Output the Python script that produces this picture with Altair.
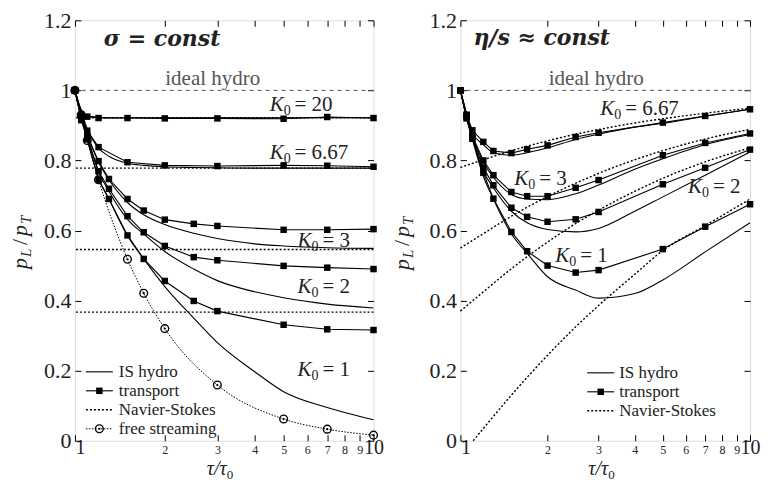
import altair as alt
import pandas as pd

# ---------------- data ----------------
TAU_A = [1, 1.05, 1.1, 1.2, 1.5, 2, 3, 5, 7, 10]
TAU_B = [1, 1.05, 1.1, 1.2, 1.3, 1.5, 1.7, 2, 2.5, 3, 5, 7, 10]
TAU_IS = [1, 1.05, 1.1, 1.2, 1.3, 1.5, 1.7, 2, 2.5, 3, 4, 5, 7, 10]
TAU_NS = [1, 1.2, 1.5, 2, 2.5, 3, 4, 5, 7, 10]
TAU_NS1 = [1.107, 1.2, 1.5, 2, 2.5, 3, 4, 5, 7, 10]
TAU_FS = [1, 1.05, 1.1, 1.2, 1.5, 1.7, 2, 3, 5, 7, 10]

# left panel: sigma = const
L_TR_20 = [1.0, 0.93, 0.925, 0.921, 0.921, 0.920, 0.920, 0.919, 0.924, 0.921]
L_TR_667 = [1.0, 0.93, 0.885, 0.838, 0.795, 0.786, 0.784, 0.786, 0.785, 0.782]
L_TR_3 = [1.0, 0.925, 0.87, 0.798, 0.747, 0.690, 0.657, 0.631, 0.619, 0.613, 0.602, 0.602, 0.604]
L_TR_2 = [1.0, 0.92, 0.865, 0.769, 0.719, 0.641, 0.595, 0.556, 0.524, 0.515, 0.499, 0.494, 0.490]
L_TR_1 = [1.0, 0.915, 0.86, 0.745, 0.690, 0.586, 0.519, 0.456, 0.399, 0.370, 0.331, 0.318, 0.316]

L_IS_20 = [1.0, 0.945, 0.928, 0.923, 0.922, 0.922, 0.922, 0.922, 0.922, 0.922, 0.922, 0.922, 0.922, 0.922]
L_IS_667 = [1.0, 0.94, 0.89, 0.835, 0.812, 0.792, 0.786, 0.782, 0.780, 0.779, 0.778, 0.778, 0.778, 0.778]
L_IS_3 = [1.0, 0.935, 0.875, 0.795, 0.745, 0.68, 0.645, 0.617, 0.592, 0.577, 0.562, 0.556, 0.551, 0.549]
L_IS_2 = [1.0, 0.93, 0.87, 0.768, 0.712, 0.632, 0.590, 0.540, 0.490, 0.457, 0.425, 0.408, 0.390, 0.379]
L_IS_1 = [1.0, 0.925, 0.862, 0.75, 0.69, 0.585, 0.519, 0.44, 0.35, 0.28, 0.197, 0.14, 0.095, 0.06]

L_NS = [0.922, 0.778, 0.546, 0.367]          # K0 = 20, 6.67, 3, 2
FS = [1.0, 0.93, 0.857, 0.745, 0.518, 0.421, 0.32, 0.159, 0.062, 0.033, 0.016]

# right panel: eta/s ~ const
R_TR_667 = [1.0, 0.93, 0.886, 0.853, 0.827, 0.821, 0.832, 0.843, 0.867, 0.879, 0.908, 0.927, 0.946]
R_TR_3 = [1.0, 0.93, 0.87, 0.80, 0.758, 0.710, 0.698, 0.698, 0.722, 0.744, 0.815, 0.850, 0.877]
R_TR_2 = [1.0, 0.925, 0.865, 0.78, 0.729, 0.665, 0.639, 0.625, 0.632, 0.653, 0.732, 0.779, 0.831]
R_TR_1 = [1.0, 0.92, 0.862, 0.765, 0.691, 0.596, 0.541, 0.50, 0.480, 0.487, 0.547, 0.611, 0.675]

R_IS_667 = [1.0, 0.935, 0.88, 0.845, 0.822, 0.815, 0.822, 0.836, 0.860, 0.875, 0.895, 0.906, 0.926, 0.946]
R_IS_3 = [1.0, 0.93, 0.87, 0.795, 0.752, 0.703, 0.69, 0.688, 0.705, 0.730, 0.775, 0.805, 0.845, 0.874]
R_IS_2 = [1.0, 0.925, 0.865, 0.77, 0.722, 0.655, 0.622, 0.603, 0.596, 0.606, 0.655, 0.696, 0.758, 0.824]
R_IS_1 = [1.0, 0.92, 0.86, 0.755, 0.69, 0.59, 0.535, 0.468, 0.43, 0.407, 0.42, 0.459, 0.539, 0.622]

R_NS_667 = [0.780, 0.802, 0.828, 0.856, 0.875, 0.888, 0.907, 0.919, 0.935, 0.949]
R_NS_3 = [0.550, 0.591, 0.641, 0.697, 0.735, 0.763, 0.802, 0.828, 0.861, 0.889]
R_NS_2 = [0.370, 0.425, 0.491, 0.567, 0.620, 0.658, 0.712, 0.749, 0.796, 0.836]
R_NS_1 = [0.0, 0.035, 0.130, 0.244, 0.325, 0.386, 0.475, 0.543, 0.614, 0.690]

X_TICKS = [1, 2, 3, 4, 5, 6, 7, 8, 9, 10]
Y_TICKS = [0, 0.2, 0.4, 0.6, 0.8, 1.0, 1.2]
IDEAL = [1.0]


def frame(parts):
    rows = []
    for name, taus, vals in parts:
        rows += [{"k": name, "tau": t, "r": v} for t, v in zip(taus, vals)]
    return pd.DataFrame(rows)


# ---------------- styling ----------------
FONT = "Liberation Serif"
TC = "#222222"
W1, W2, H = 299, 290, 421
DUMMY = pd.DataFrame({"a": [0]})

XS = alt.Scale(type="log", domain=[1, 10])
YS = alt.Scale(domain=[0, 1.2], nice=False, zero=False)


def xq(axis=None):
    return alt.X("tau:Q", scale=XS, axis=axis)


def yq(axis=None):
    return alt.Y("r:Q", scale=YS, axis=axis)


AX_B = alt.Axis(
    orient="bottom", values=X_TICKS, offset=-6, tickSize=6, domain=False, grid=False,
    title=None, labelFont=FONT, labelColor=TC, labelBaseline="alphabetic", labelPadding=13,
    labelFontSize={"condition": {"test": "datum.value == 1 || datum.value == 10", "value": 20},
                   "value": 12},
    labelAlign={"condition": {"test": "datum.value == 1", "value": "left"}, "value": "center"},
    labelExpr="format(datum.value, 'd')", tickColor="black", labelFlush=False,
    labelOverlap=False, labelBound=False)
AX_L = alt.Axis(orient="left", values=Y_TICKS, offset=-6, tickSize=6, domain=False, grid=False,
                title=None, labelFont=FONT, labelFontSize=22, labelColor=TC, labelPadding=4,
                labelExpr="datum.value == 0 ? '0' : datum.value == 1 ? '1' : format(datum.value, '.1f')",
                tickColor="black", labelOverlap=False, labelFlush=False, labelBound=False)
AX_T = alt.Axis(orient="top", values=X_TICKS, offset=-6, tickSize=6, domain=False, grid=False,
                labels=False, title=None, tickColor="black")
AX_R = alt.Axis(orient="right", values=Y_TICKS, offset=-6, tickSize=6, domain=False, grid=False,
                labels=False, title=None, tickColor="black")


def txt(text, x, y, size=21, align="left", style="normal", weight="normal", font=FONT,
        color=TC, angle=0):
    return alt.Chart(DUMMY).mark_text(
        text=text, align=align, baseline="alphabetic", fontSize=size, font=font,
        fontStyle=style, fontWeight=weight, color=color, angle=angle
    ).encode(x=alt.value(x), y=alt.value(y))


def klabel(x, y, num):
    return [txt("K", x, y, style="italic"), txt("0", x + 14, y + 4, size=14),
            txt("=", x + 25, y), txt(num, x + 42, y)]


def xtitle(x, y):
    return [txt("\u03c4/\u03c4", x, y, size=20, style="italic"), txt("0", x + 20, y + 4, size=13)]


def ytitle(x, y0):
    return [
        txt("p", x, y0, size=22, style="italic", angle=270),
        txt("L", x + 4, y0 - 12, size=15, style="italic", angle=270),
        txt("/", x, y0 - 24, size=22, angle=270),
        txt("p", x, y0 - 33, size=22, style="italic", angle=270),
        txt("T", x + 4, y0 - 45, size=15, style="italic", angle=270),
    ]


def hrule(x1, x2, y, dash=None, width=1.2):
    kw = dict(color="black", strokeWidth=width)
    if dash:
        kw["strokeDash"] = dash
    return alt.Chart(DUMMY).mark_rule(**kw).encode(x=alt.value(x1), x2=alt.value(x2), y=alt.value(y))


def sym(x, y, shape):
    if shape == "square":
        return [alt.Chart(DUMMY).mark_square(size=42, color="black", opacity=1).encode(
            x=alt.value(x), y=alt.value(y))]
    return [
        alt.Chart(DUMMY).mark_point(shape="circle", size=60, filled=False, color="black",
                                    strokeWidth=1.4, opacity=1).encode(x=alt.value(x), y=alt.value(y)),
        alt.Chart(DUMMY).mark_point(shape="circle", size=5, filled=True, color="black",
                                    opacity=1).encode(x=alt.value(x), y=alt.value(y)),
    ]


def legend(x1, x2, xt, ys, items):
    layers = []
    xm = (x1 + x2) / 2
    for y, (label, kind) in zip(ys, items):
        if kind == "is":
            layers.append(hrule(x1, x2, y, width=1.1))
        elif kind == "tr":
            layers.append(hrule(x1, x2, y, width=1.1))
            layers += sym(xm, y, "square")
        elif kind == "ns":
            layers.append(hrule(x1, x2, y, dash=[2, 2], width=1.4))
        else:
            layers.append(hrule(x1, x2, y, dash=[1.5, 1.5], width=1.0))
            layers += sym(xm, y, "circle")
        layers.append(txt(label, xt, y + 5, size=17))
    return layers


def panel(width, is_df, tr_df, ns_layer, extra, texts):
    ideal = alt.Chart(pd.DataFrame({"r": IDEAL})).mark_rule(
        color="#555555", strokeDash=[4, 4], strokeWidth=1).encode(y=yq())
    is_lines = alt.Chart(is_df).mark_line(color="black", strokeWidth=1.1, interpolate="monotone").encode(
        x=xq(AX_B), y=yq(AX_L), detail="k:N")
    tr_lines = alt.Chart(tr_df).mark_line(color="black", strokeWidth=1.1).encode(
        x=xq(), y=yq(), detail="k:N")
    tr_pts = alt.Chart(tr_df).mark_square(size=42, color="black", opacity=1).encode(x=xq(), y=yq())
    ticks = alt.Chart(is_df).mark_point(opacity=0).encode(x=xq(AX_T), y=yq(AX_R))
    layers = [ideal, ns_layer, is_lines, tr_lines, tr_pts] + extra + [ticks] + texts
    return alt.layer(*layers).resolve_axis(x="independent", y="independent").properties(
        width=width, height=H)


# ---------- left panel ----------
l_is = frame([("20", TAU_IS, L_IS_20), ("6.67", TAU_IS, L_IS_667), ("3", TAU_IS, L_IS_3),
              ("2", TAU_IS, L_IS_2), ("1", TAU_IS, L_IS_1)])
l_tr = frame([("20", TAU_A, L_TR_20), ("6.67", TAU_A, L_TR_667), ("3", TAU_B, L_TR_3),
              ("2", TAU_B, L_TR_2), ("1", TAU_B, L_TR_1)])
l_ns = alt.Chart(pd.DataFrame({"r": L_NS})).mark_rule(
    color="black", strokeDash=[2, 2], strokeWidth=1.4).encode(y=yq())
fs_df = frame([("fs", TAU_FS, FS)])
fs_line = alt.Chart(fs_df).mark_line(color="black", strokeWidth=1, strokeDash=[1.5, 1.5],
                                     interpolate="monotone").encode(x=xq(), y=yq())
fs_circ = alt.Chart(fs_df).mark_point(shape="circle", size=60, filled=False, color="black",
                                      strokeWidth=1.4, opacity=1).encode(x=xq(), y=yq())
fs_dot = alt.Chart(fs_df).mark_point(shape="circle", size=5, filled=True, color="black",
                                     opacity=1).encode(x=xq(), y=yq())

l_texts = (
    [txt("\u03c3 = const", 29, 26, size=22, style="italic", weight="bold", font="DejaVu Serif")]
    + [txt("ideal hydro", 138, 65, align="center", color="#555555")]
    + klabel(195, 91, "20") + klabel(195, 139, "6.67")
    + klabel(223, 227, "3") + klabel(223, 273, "2") + klabel(223, 356, "1")
    + legend(11, 38, 44, [352, 371, 390, 409],
             [("IS hydro", "is"), ("transport", "tr"), ("Navier-Stokes", "ns"), ("free streaming", "fs")])
    + ytitle(-48, 249)
    + xtitle(132, 455)
)
left = panel(W1, l_is, l_tr, l_ns, [fs_line, fs_circ, fs_dot], l_texts)

# ---------- right panel ----------
r_is = frame([("6.67", TAU_IS, R_IS_667), ("3", TAU_IS, R_IS_3), ("2", TAU_IS, R_IS_2),
              ("1", TAU_IS, R_IS_1)])
r_tr = frame([("6.67", TAU_B, R_TR_667), ("3", TAU_B, R_TR_3), ("2", TAU_B, R_TR_2),
              ("1", TAU_B, R_TR_1)])
r_ns_df = frame([("6.67", TAU_NS, R_NS_667), ("3", TAU_NS, R_NS_3), ("2", TAU_NS, R_NS_2),
                 ("1", TAU_NS1, R_NS_1)])
r_ns = alt.Chart(r_ns_df).mark_line(color="black", strokeDash=[2, 2], strokeWidth=1.4,
                                    interpolate="monotone").encode(x=xq(), y=yq(), detail="k:N")

r_texts = (
    [txt("\u03b7/s \u2248 const", 13, 25, size=22, style="italic", weight="bold", font="DejaVu Serif")]
    + [txt("ideal hydro", 136, 65, align="center", color="#555555")]
    + klabel(140, 95, "6.67") + klabel(54, 165, "3") + klabel(228, 173, "2") + klabel(95, 242, "1")
    + legend(127, 154, 159, [353, 372, 391],
             [("IS hydro", "is"), ("transport", "tr"), ("Navier-Stokes", "ns")])
    + ytitle(-51, 250)
    + xtitle(128, 455)
)
right = panel(W2, r_is, r_tr, r_ns, [], r_texts)

chart = alt.hconcat(left, right, spacing=87, bounds="flush").properties(
    padding={"left": 0, "top": 0, "right": 0, "bottom": 0}
).configure_view(stroke="black", strokeWidth=1.6).configure(background="white")

chart.save("out.html", embed_options={"renderer": "svg", "actions": False})
